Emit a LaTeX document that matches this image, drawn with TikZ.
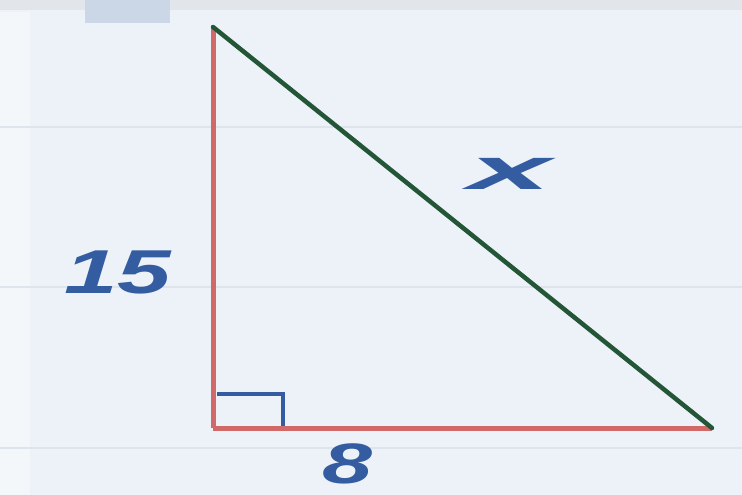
\documentclass[tikz,border=0pt]{standalone}
\usepackage{fontspec}
\setmainfont{Liberation Sans}
\definecolor{bg}{RGB}{237,242,248}
\definecolor{band}{RGB}{226,229,233}
\definecolor{tab}{RGB}{203,214,230}
\definecolor{rule}{RGB}{222,228,235}
\definecolor{redleg}{RGB}{210,105,105}
\definecolor{hyp}{RGB}{35,85,55}
\definecolor{ink}{RGB}{52,92,160}
\tikzset{
  leg/.style={draw=redleg, line width=5pt},
  hypline/.style={draw=hyp, line width=4.5pt},
  label/.style={text=ink, font=\itshape\bfseries\fontsize{62}{62}\selectfont, inner sep=0pt},
  ruleline/.style={draw=rule, line width=2pt},
  marker/.style={draw=ink, line width=3.5pt}
}
\begin{document}
\begin{tikzpicture}[x=1pt,y=-1pt]
\useasboundingbox (0,0) rectangle (742,495);
\fill[bg] (0,0) rectangle (742,495);
\fill[white!35!bg] (0,12) rectangle (30,495);
\fill[band] (0,0) rectangle (742,10);
\fill[tab] (85,0) rectangle (170,23);
\draw[ruleline] (0,127) -- (742,127);
\draw[ruleline] (0,287) -- (742,287);
\draw[ruleline] (0,448) -- (742,448);
\coordinate (A) at (213,27);
\coordinate (C) at (213,428);
\coordinate (B) at (712,428);
\coordinate (M1) at (217,394);
\coordinate (M2) at (283,394);
\coordinate (M3) at (283,428);
\draw[marker] (M1) -- (M2) -- (M3);
\draw[leg] (C) -- (B);
\draw[leg] (A) -- (C);
\draw[hypline, line cap=round] (A) -- (B);
\node[label] (l15) at (118,272) {\scalebox{1.55}[1.0]{15}};
\node[label] (l8) at (347,464) {\scalebox{1.45}[0.92]{8}};
\node[label] (lx) at (510,174) {\scalebox{2.4}[0.95]{x}};
\end{tikzpicture}
\end{document}
